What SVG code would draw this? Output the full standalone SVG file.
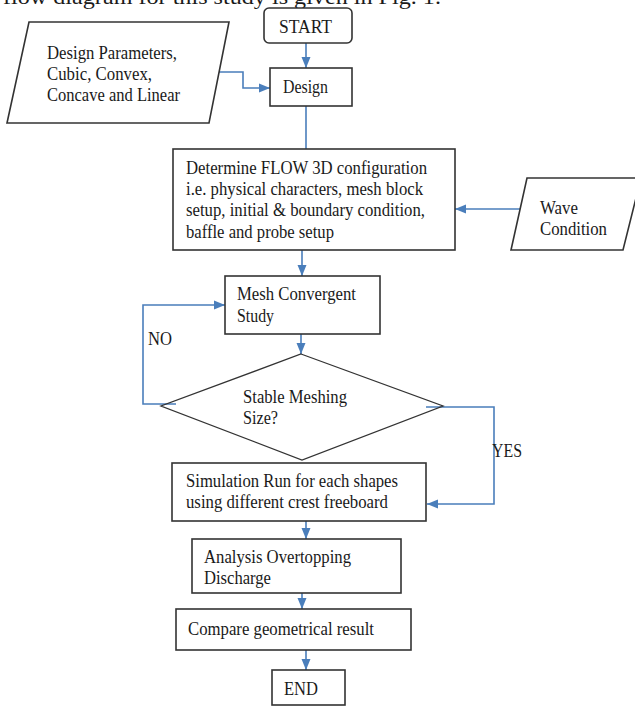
<svg xmlns="http://www.w3.org/2000/svg" width="635" height="707" viewBox="0 0 635 707">
<style>
.box{fill:#fff;stroke:#333;stroke-width:1.6}
.t{font-family:"Liberation Serif","Times New Roman",serif;font-size:19px;fill:#1a1a1a}
.c{fill:none;stroke:#4a7ebb;stroke-width:1.6}
</style>
<defs>
<marker id="ah" markerUnits="userSpaceOnUse" markerWidth="12" markerHeight="12" viewBox="0 0 12 12" refX="11" refY="6" orient="auto">
<path d="M0,1.5 L11,6 L0,10.5 Z" fill="#4a7ebb"/>
</marker>
</defs>
<rect width="635" height="707" fill="#fff"/>
<text class="t" x="3" y="4" style="font-size:21px" textLength="438" lengthAdjust="spacingAndGlyphs">flow diagram for this study is given in Fig. 1.</text>
<g id="connectors">
<path class="c" d="M306,43 V68" marker-end="url(#ah)"/>
<path class="c" d="M218,72 H243 V88 H270" marker-end="url(#ah)"/>
<path class="c" d="M306,106 V149"/>
<path class="c" d="M521,209 H455" marker-end="url(#ah)"/>
<path class="c" d="M302,250 V276" marker-end="url(#ah)"/>
<path class="c" d="M301,334 V354" marker-end="url(#ah)"/>
<path class="c" d="M176,404 H143 V305 H225" marker-end="url(#ah)"/>
<path class="c" d="M426,407 H494 V504 H427" marker-end="url(#ah)"/>
<path class="c" d="M306,521 V539" marker-end="url(#ah)"/>
<path class="c" d="M302,593 V609" marker-end="url(#ah)"/>
<path class="c" d="M306,650 V670" marker-end="url(#ah)"/>
</g>
<g id="start">
<rect class="box" x="264" y="8" width="88" height="35" rx="5"/>
<text class="t" x="279" y="33" textLength="53" lengthAdjust="spacingAndGlyphs">START</text>
</g>
<g id="params">
<polygon class="box" points="29,22 229,22 209,123 7,123"/>
<text class="t" x="47" y="59" textLength="130" lengthAdjust="spacingAndGlyphs">Design Parameters,</text>
<text class="t" x="47" y="80" textLength="105" lengthAdjust="spacingAndGlyphs">Cubic, Convex,</text>
<text class="t" x="47" y="101" textLength="133" lengthAdjust="spacingAndGlyphs">Concave and Linear</text>
</g>
<g id="design">
<rect class="box" x="270" y="68" width="82" height="38"/>
<text class="t" x="283" y="93" textLength="45" lengthAdjust="spacingAndGlyphs">Design</text>
</g>
<g id="flow3d">
<rect class="box" x="173" y="149" width="282" height="101"/>
<text class="t" x="186" y="174" textLength="241" lengthAdjust="spacingAndGlyphs">Determine FLOW 3D configuration</text>
<text class="t" x="186" y="195" textLength="237" lengthAdjust="spacingAndGlyphs">i.e. physical characters, mesh block</text>
<text class="t" x="186" y="216" textLength="239" lengthAdjust="spacingAndGlyphs">setup, initial &amp; boundary condition,</text>
<text class="t" x="186" y="238" textLength="148" lengthAdjust="spacingAndGlyphs">baffle and probe setup</text>
</g>
<g id="wave">
<polygon class="box" points="527,178 641,178 623,250 511,250"/>
<text class="t" x="540" y="214" textLength="38" lengthAdjust="spacingAndGlyphs">Wave</text>
<text class="t" x="540" y="235" textLength="67" lengthAdjust="spacingAndGlyphs">Condition</text>
</g>
<g id="mesh">
<rect class="box" x="225" y="276" width="155" height="58"/>
<text class="t" x="237" y="300" textLength="119" lengthAdjust="spacingAndGlyphs">Mesh Convergent</text>
<text class="t" x="237" y="322" textLength="37" lengthAdjust="spacingAndGlyphs">Study</text>
</g>
<g id="decision">
<polygon class="box" style="fill:none;stroke-width:1.3" points="301,354 443,406 302,460 161,406"/>
<text class="t" x="243" y="403" textLength="104" lengthAdjust="spacingAndGlyphs">Stable Meshing</text>
<text class="t" x="243" y="424" textLength="35" lengthAdjust="spacingAndGlyphs">Size?</text>
</g>
<g id="labels">
<text class="t" x="148" y="345" textLength="24" lengthAdjust="spacingAndGlyphs">NO</text>
<text class="t" x="492" y="457" textLength="30" lengthAdjust="spacingAndGlyphs">YES</text>
</g>
<g id="simulation">
<rect class="box" x="172" y="463" width="254" height="58"/>
<text class="t" x="186" y="487" textLength="212" lengthAdjust="spacingAndGlyphs">Simulation Run for each shapes</text>
<text class="t" x="186" y="508" textLength="202" lengthAdjust="spacingAndGlyphs">using different crest freeboard</text>
</g>
<g id="analysis">
<rect class="box" x="192" y="539" width="209" height="54"/>
<text class="t" x="204" y="563" textLength="147" lengthAdjust="spacingAndGlyphs">Analysis Overtopping</text>
<text class="t" x="204" y="584" textLength="67" lengthAdjust="spacingAndGlyphs">Discharge</text>
</g>
<g id="compare">
<rect class="box" x="176" y="609" width="235" height="41"/>
<text class="t" x="188" y="635" textLength="186" lengthAdjust="spacingAndGlyphs">Compare geometrical result</text>
</g>
<g id="end">
<rect class="box" x="272" y="670" width="73" height="35"/>
<text class="t" x="284" y="695" textLength="34" lengthAdjust="spacingAndGlyphs">END</text>
</g>
</svg>
